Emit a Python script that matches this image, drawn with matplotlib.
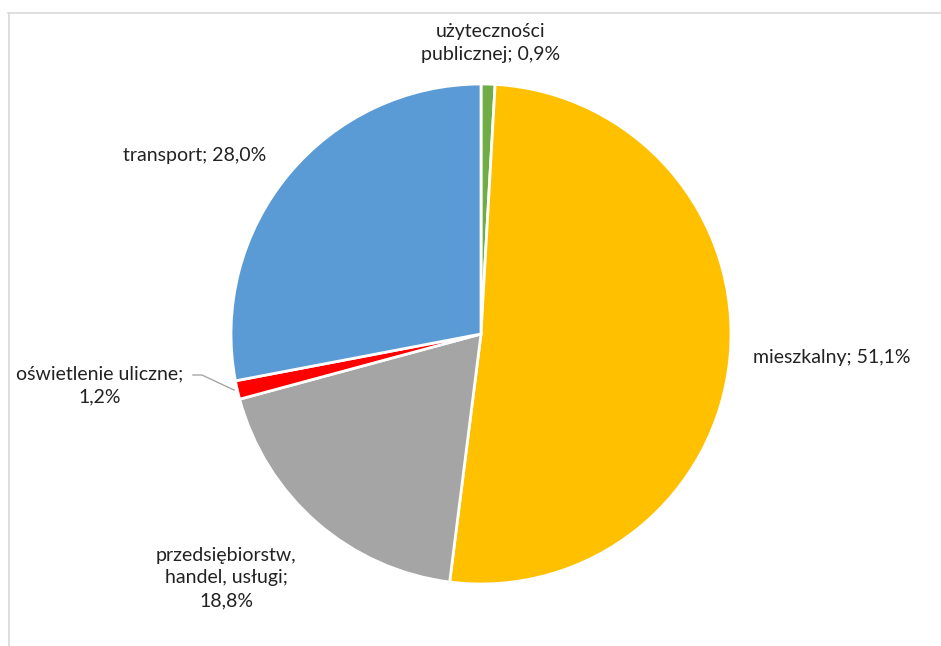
import matplotlib.pyplot as plt
from matplotlib.lines import Line2D

labels = ["użyteczności\npublicznej; 0,9%", "mieszkalny; 51,1%",
          "przedsiębiorstw,\nhandel, usługi;\n18,8%",
          "oświetlenie uliczne;\n1,2%", "transport; 28,0%"]
values = [0.9, 51.1, 18.8, 1.2, 28.0]
colors = ["#70AD47", "#FFC000", "#A5A5A5", "#FF0000", "#5B9BD5"]

plt.rcParams['font.family'] = ['Lato', 'DejaVu Sans']

fig = plt.figure(figsize=(9.41, 6.46), dpi=100)
ax = fig.add_axes([231 / 941, 62 / 646, 500 / 941, 500 / 646])
ax.pie(values, colors=colors, startangle=90, counterclock=False,
       wedgeprops=dict(edgecolor="white", linewidth=2))
ax.set_xlim(-1, 1)
ax.set_ylim(-1, 1)
ax.set_aspect("equal")

# etykiety
pos = [(0.04, 1.164, "center"), (1.088, -0.096, "left"),
       (-1.02, -0.976, "center"), (-1.524, -0.204, "center"),
       (-1.144, 0.716, "center")]
for lab, (x, y, ha) in zip(labels, pos):
    ax.text(x, y, lab, ha=ha, va="center", fontsize=14,
            color="#222222", linespacing=1.42, clip_on=False)

ax.add_line(Line2D([-1.152, -1.116, -0.988], [-0.164, -0.164, -0.224],
                   color="#A6A6A6", lw=1, clip_on=False))

# ramka
fig.add_artist(Line2D([8.5 / 941, 8.5 / 941], [0, 1 - 13 / 646],
                      color="#D9D9D9", lw=1.2))
fig.add_artist(Line2D([8 / 941, 1], [1 - 13 / 646, 1 - 13 / 646],
                      color="#D9D9D9", lw=1.2))

fig.savefig("out.png", dpi=100)
